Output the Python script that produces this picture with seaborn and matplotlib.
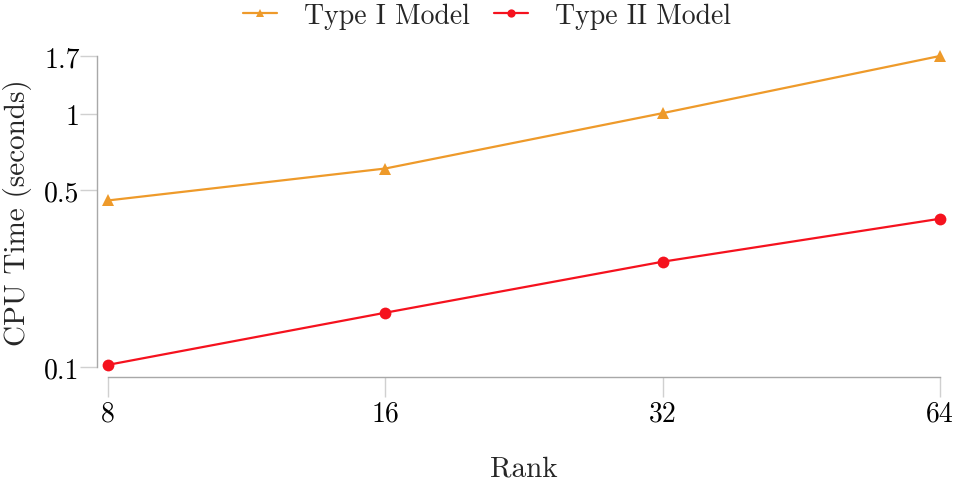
import numpy as np
import pandas as pd
import matplotlib
matplotlib.use("Agg")
import matplotlib.pyplot as plt
import seaborn as sns

# === Datos ===
ranks = [8, 16, 32, 64]
type1_time = [0.456, 0.61, 1.01, 1.7]
type2_time = [0.102, 0.164, 0.261, 0.386]
models = ["Type I Model", "Type II Model"]
ytick_vals = [0.1, 0.5, 1, 1.7]
ytick_labels = ["0.1", "0.5", "1", "1.7"]

df = pd.DataFrame({
    "rank": ranks * 2,
    "time": type1_time + type2_time,
    "model": [models[0]] * len(ranks) + [models[1]] * len(ranks),
})

sns.set_theme(style="white")
plt.rcParams["font.family"] = ["cmr10", "DejaVu Serif"]
plt.rcParams["mathtext.fontset"] = "cm"
plt.rcParams["axes.formatter.use_mathtext"] = True

fig = plt.figure(figsize=(9.57, 4.85), dpi=100)
ax = fig.add_axes([0.1129, 0.2412, 0.8693, 0.6413])

palette = {models[0]: "#EE9A2A", models[1]: "#F5121E"}
sns.lineplot(data=df, x="rank", y="time", hue="model", style="model",
             markers={models[0]: "^", models[1]: "o"}, dashes=False,
             palette=palette, linewidth=1.6, markersize=8.5,
             markeredgewidth=0, ax=ax, clip_on=False)

ax.set_xscale("log", base=2)
ax.set_yscale("log")
ax.set_xlim(8, 64)
ax.set_ylim(0.1, 1.7)
ax.set_xticks(ranks)
ax.set_xticklabels([str(r) for r in ranks])
ax.set_yticks(ytick_vals)
ax.set_yticklabels(ytick_labels)
ax.minorticks_off()

# ejes separados (offset en puntos)
for s in ["top", "right"]:
    ax.spines[s].set_visible(False)
ax.spines["left"].set_position(("outward", 7.9))
ax.spines["bottom"].set_position(("outward", 7.2))
for s in ["left", "bottom"]:
    ax.spines[s].set_color("#a8a8a8")
    ax.spines[s].set_linewidth(1.0)

ax.tick_params(axis="both", which="major", length=13, width=1.0,
               color="#d0d0d0", labelsize=20, labelcolor="black",
               left=True, bottom=True)
ax.tick_params(axis="y", length=12.5, pad=0)
ax.tick_params(axis="x", length=14.4, pad=2)

ax.set_xlabel("Rank", fontsize=21, labelpad=21)
ax.set_ylabel("CPU Time (seconds)", fontsize=21, labelpad=9)

ax.legend(loc="center", bbox_to_anchor=(0.4555, 1.13), ncol=2,
          frameon=False, fontsize=20, handlelength=1.22, handletextpad=0.97,
          columnspacing=0.9, markerscale=0.7)

fig.savefig("out.png", dpi=100)
